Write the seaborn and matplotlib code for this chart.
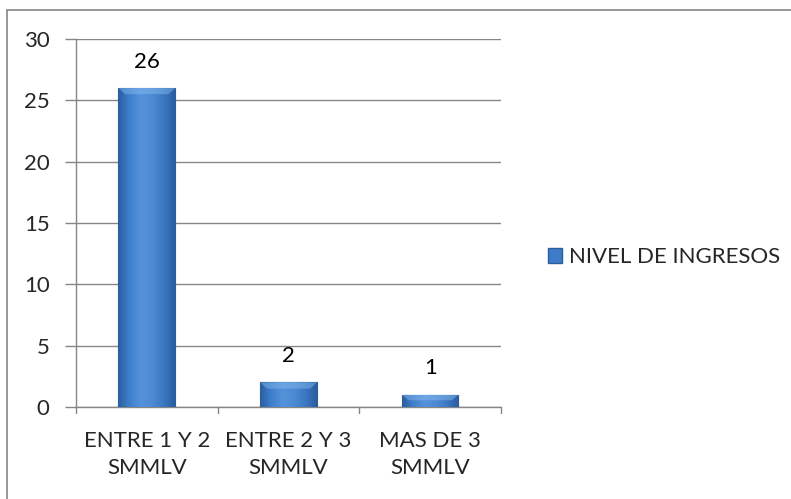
import numpy as np
import pandas as pd
import matplotlib
matplotlib.use("Agg")
import matplotlib.pyplot as plt
import seaborn as sns
from matplotlib.patches import Rectangle, Polygon
from matplotlib.colors import LinearSegmentedColormap

categorias = ["ENTRE 1 Y 2\nSMMLV", "ENTRE 2 Y 3\nSMMLV", "MAS DE 3\nSMMLV"]
valores = [26, 2, 1]
serie = "NIVEL DE INGRESOS"
yticks = [0, 5, 10, 15, 20, 25, 30]

sns.set_theme(style="white")
plt.rcParams["font.family"] = ["Lato", "DejaVu Sans"]
FS = 16

df = pd.DataFrame({"categoria": categorias, "valor": valores})

fig = plt.figure(figsize=(7.91, 4.99), dpi=100)
ax = fig.add_axes([76 / 791, 92 / 499, 425 / 791, 368 / 499])

base = "#3D7CC9"
sns.barplot(data=df, x="categoria", y="valor", color=base, width=0.4,
            saturation=1, ax=ax, zorder=3)

# bevelled gradient fill on each bar
cmap = LinearSegmentedColormap.from_list(
    "bev", ["#2A5D9E", "#3E7FCC", "#5592DA", "#4C8AD4", "#3B78C2", "#2A5D9E"])
grad = np.linspace(0, 1, 256).reshape(1, -1)
for p in ax.patches[:]:
    x0, y0 = p.get_x(), p.get_y()
    w, h = p.get_width(), p.get_height()
    p.set_edgecolor("#2B5E9C")
    p.set_linewidth(0.8)
    im = ax.imshow(grad, cmap=cmap, aspect="auto",
                   extent=[x0, x0 + w, y0, y0 + h], zorder=3.5)
    im.set_clip_path(p)
    # lighter top bevel (trapezoid)
    t = min(h * 0.45, 0.5)
    inset = w * 0.12
    ax.add_patch(Polygon([(x0, y0 + h), (x0 + w, y0 + h),
                          (x0 + w - inset, y0 + h - t), (x0 + inset, y0 + h - t)],
                         closed=True, facecolor="#8CBDF0", alpha=0.45,
                         edgecolor="none", zorder=3.6))

for i, v in enumerate(valores):
    ax.text(i, v + 2.15, str(v), ha="center", va="center", fontsize=FS,
            color="black", zorder=5)

ax.set_xlim(-0.5, 2.5)
ax.set_ylim(0, 30)
ax.set_yticks(yticks)
ax.set_yticklabels([str(t) for t in yticks], fontsize=FS)
ax.set_xticks([0, 1, 2])
ax.set_xticklabels(categorias, fontsize=FS, linespacing=1.45)
ax.tick_params(axis="x", length=0, pad=17)
ax.tick_params(axis="y", length=8, color="#868686", width=1, pad=11, left=True)
for b in [-0.5, 0.5, 1.5, 2.5]:
    ax.plot([b, b], [0, -0.5], color="#868686", lw=1, clip_on=False, zorder=4)
ax.set_xlabel("")
ax.set_ylabel("")
ax.yaxis.grid(True, color="#868686", lw=1)
ax.set_axisbelow(True)
for s in ["top", "right"]:
    ax.spines[s].set_visible(False)
ax.spines["left"].set_color("#868686")
ax.spines["bottom"].set_color("#868686")
ax.spines["left"].set_linewidth(1)
ax.spines["bottom"].set_linewidth(1)

handle = Rectangle((0, 0), 1, 1, facecolor=base, edgecolor="#2B5E9C")
fig.legend([handle], [serie], loc="center left",
           bbox_to_anchor=(528 / 791, 1 - 257 / 499), frameon=False,
           fontsize=FS, handlelength=0.65, handleheight=0.65, handletextpad=0.3)

# outer chart frame
fig.add_artist(plt.Line2D([7 / 791, 7 / 791], [0, 1 - 10 / 499],
                          transform=fig.transFigure, color="#868686", lw=1.2))
fig.add_artist(plt.Line2D([7 / 791, 1], [1 - 10 / 499, 1 - 10 / 499],
                          transform=fig.transFigure, color="#868686", lw=1.2))

fig.savefig("out.png", dpi=100)
